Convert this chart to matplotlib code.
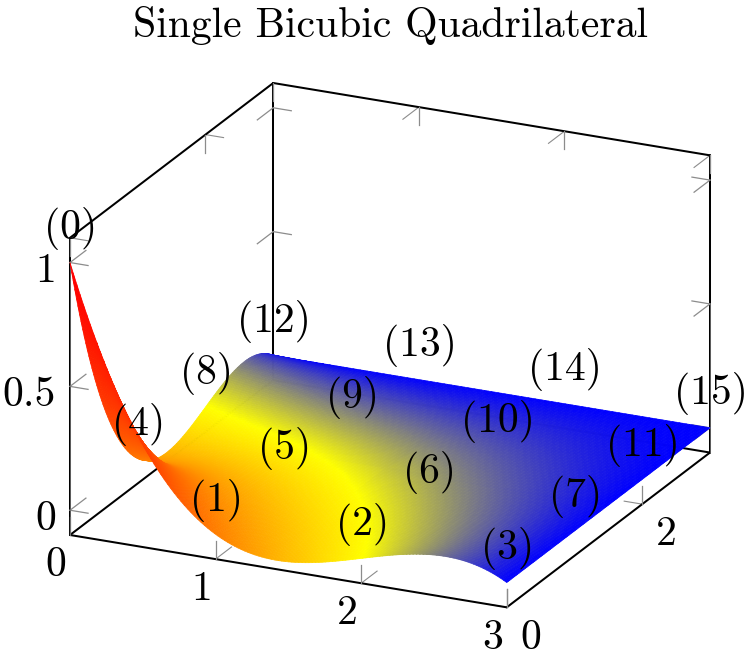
import numpy as np
import matplotlib
matplotlib.use("Agg")
import matplotlib.pyplot as plt
from matplotlib.colors import LinearSegmentedColormap
from mpl_toolkits.mplot3d import proj3d

plt.rcParams['font.family'] = ['cmr10', 'DejaVu Sans']

# control points of the patch, in reading order
x_ctrl = [0, 1, 2, 3]
y_ctrl = [0, 1, 2, 3]
z_ctrl = [[1, 0, 0, 0],
          [0, 0, 0, 0],
          [0, 0, 0, 0],
          [0, 0, 0, 0]]

x_ticks = [0, 1, 2, 3]
y_ticks = [0, 2]
z_ticks = [0, 0.5, 1]
z_tick_labels = ['0', '0.5', '1']

xmin, xmax = 0, 3
ymin, ymax = 0, 3
zmin, zmax = -0.1, 1.1

hot = LinearSegmentedColormap.from_list('hot', ['#0000ff', '#ffff00', '#ff8000', '#ff0000'])
W, H = 748, 656
FS = 30


def lagrange(nodes, i, t):
    out = np.ones_like(t)
    for j, n in enumerate(nodes):
        if j != i:
            out = out * (t - n) / (nodes[i] - n)
    return out


# bicubic surface through the 16 points, colour from the 4 corners
u = np.linspace(xmin, xmax, 131)
v = np.linspace(ymin, ymax, 131)
X, Y = np.meshgrid(u, v)
Z = np.zeros_like(X)
for r in range(4):
    for c in range(4):
        Z = Z + z_ctrl[r][c] * lagrange(x_ctrl, c, X) * lagrange(y_ctrl, r, Y)
sx = (X - xmin) / (xmax - xmin)
sy = (Y - ymin) / (ymax - ymin)
meta = (z_ctrl[0][0] * (1 - sx) * (1 - sy) + z_ctrl[0][3] * sx * (1 - sy)
        + z_ctrl[3][0] * (1 - sx) * sy + z_ctrl[3][3] * sx * sy)

fig = plt.figure(figsize=(W / 100, H / 100), dpi=100)
side = 1000
ax = fig.add_axes([(W - side) / 2 / W, (H - side) / 2 / H, side / W, side / H],
                  projection='3d', computed_zorder=False, proj_type='ortho')
ax.view_init(elev=20.8, azim=-65)
ax.set_xlim(xmin, xmax)
ax.set_ylim(ymin, ymax)
ax.set_zlim(zmin, zmax)
ax.set_axis_off()
ax.patch.set_alpha(0)
aspect = (482, 481, 318)
ax.set_box_aspect(aspect, zoom=1)


def to_px(x, y, z):
    xp, yp, _ = proj3d.proj_transform(x, y, z, ax.get_proj())
    return ax.transData.transform((xp, yp))


# fit the box to its place in the figure: (70,535) and (710,452) from the top left
a = to_px(xmin, ymin, zmin)
b = to_px(xmax, ymax, zmin)
ax.set_box_aspect(aspect, zoom=640 / (b[0] - a[0]))
a = to_px(xmin, ymin, zmin)
l, bt, w, h = ax.get_position().bounds
ax.set_position([l + (70 - a[0]) / W, bt + (H - 535 - a[1]) / H, w, h])


def seg(p, q, **kw):
    ax.plot([p[0], q[0]], [p[1], q[1]], [p[2], q[2]], **kw)


# box
edge = dict(color='black', lw=1.45, zorder=1.2, solid_capstyle='round')
corners_low = [(xmin, ymin), (xmax, ymin), (xmax, ymax), (xmin, ymax), (xmin, ymin)]
for (x0, y0), (x1, y1) in zip(corners_low[:-1], corners_low[1:]):
    seg((x0, y0, zmin), (x1, y1, zmin), **edge)
for x0, y0 in [(xmin, ymin), (xmin, ymax), (xmax, ymax)]:
    seg((x0, y0, zmin), (x0, y0, zmax), **edge)
seg((xmin, ymin, zmax), (xmin, ymax, zmax), **edge)
seg((xmin, ymax, zmax), (xmax, ymax, zmax), **edge)

# ticks, two strokes at each place
tlx, tly, tlz = 0.124, 0.235, 0.0726
grey_under = dict(color='#8c8c8c', lw=0.8, zorder=1.0)
grey_over = dict(color='#8c8c8c', lw=0.9, zorder=1.4)
for x in x_ticks:
    seg((x, ymin, zmin), (x, ymin + tly, zmin), **grey_under)
    seg((x, ymin, zmin), (x, ymin, zmin + tlz), **grey_over)
    seg((x, ymax, zmax), (x, ymax - tly, zmax), **grey_under)
    seg((x, ymax, zmax), (x, ymax, zmax - tlz), **grey_over)
for y in y_ticks:
    seg((xmax, y, zmin), (xmax - tlx, y, zmin), **grey_under)
    seg((xmax, y, zmin), (xmax, y, zmin + tlz), **grey_over)
    seg((xmin, y, zmax), (xmin + tlx, y, zmax), **grey_under)
    seg((xmin, y, zmax), (xmin, y, zmax - tlz), **grey_over)
for z in z_ticks:
    seg((xmin, ymin, z), (xmin + tlx, ymin, z), **grey_over)
    seg((xmin, ymin, z), (xmin, ymin + tly, z), **grey_over)
    seg((xmin, ymax, z), (xmin + tlx, ymax, z), **grey_over)
    seg((xmin, ymax, z), (xmin, ymax - tly, z), **grey_over)
    seg((xmax, ymax, z), (xmax - tlx, ymax, z), **grey_over)
    seg((xmax, ymax, z), (xmax, ymax - tly, z), **grey_over)
# grey runs along the lower part of the two outer verticals
grey_thin = dict(color='#6e6e6e', lw=0.6, zorder=1.4)
seg((xmin, ymin, zmin), (xmin, ymin, z_ticks[2]), **grey_thin)
seg((xmax, ymax, zmin), (xmax, ymax, z_ticks[1]), **grey_thin)

ax.plot_surface(X, Y, Z, facecolors=hot(meta), rstride=1, cstride=1, shade=False,
                linewidth=0.5, antialiased=True, zorder=2)


def label(p, text, off, ha='center'):
    xp, yp, _ = proj3d.proj_transform(p[0], p[1], p[2], ax.get_proj())
    ax.annotate(text, xy=(xp, yp), xytext=off, textcoords='offset pixels',
                ha=ha, va='center', fontsize=FS, color='black', zorder=5)


for x in x_ticks:
    label((x, ymin, zmin), str(x), (-14, -30.5))
for y in y_ticks:
    label((xmax, y, zmin), str(y), (24, -30.5))
for z, t in zip(z_ticks, z_tick_labels):
    label((xmin, ymin, z), t, (-14, -9), ha='right')

# index of each control point, placed above it
for r in range(4):
    for c in range(4):
        label((x_ctrl[c], y_ctrl[r], z_ctrl[r][c]), '(%d)' % (r * 4 + c), (1, 34))

fig.text(390.5 / W, 1 - 37 / H, 'Single Bicubic Quadrilateral', ha='center', va='baseline', fontsize=FS)
fig.savefig('out.png', dpi=100)
